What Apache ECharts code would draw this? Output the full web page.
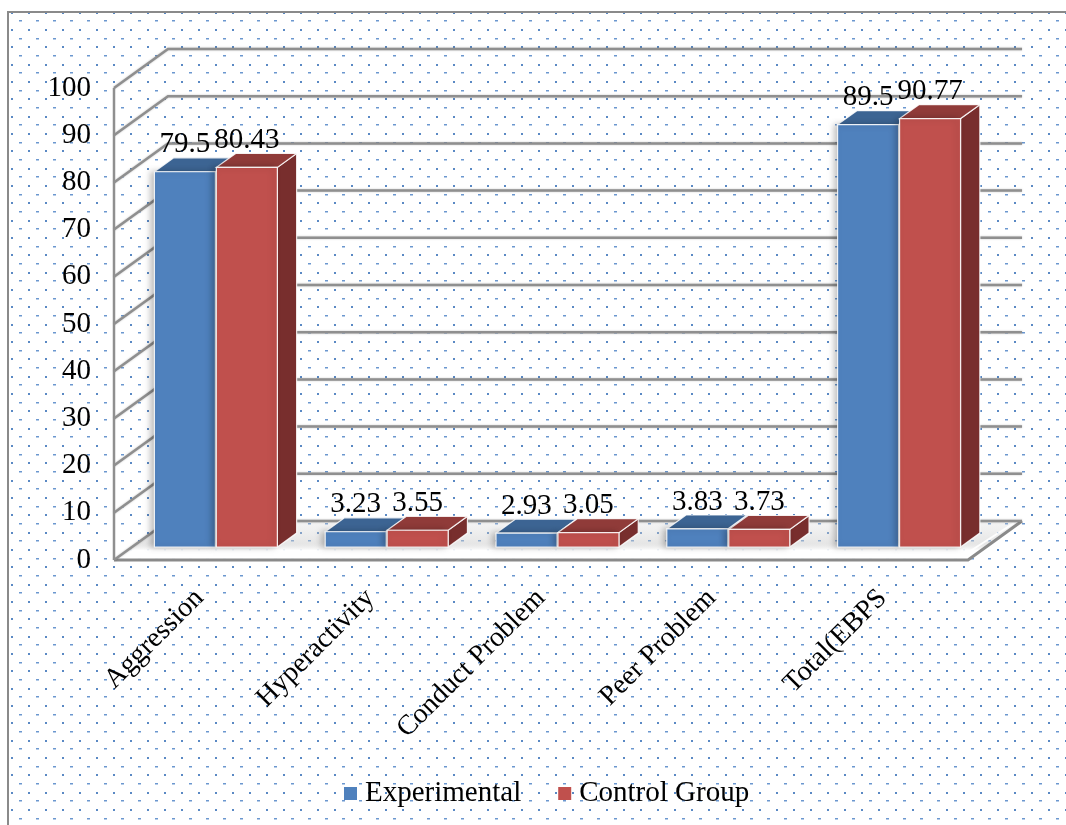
<!DOCTYPE html>
<html><head><meta charset="utf-8">
<script src="https://cdn.jsdelivr.net/npm/echarts@6/dist/echarts.min.js"></script>
<style>html,body{margin:0;padding:0;background:#fff}#c{width:1066px;height:825px}</style>
</head><body><div id="c"></div>
<script>
// ---- data ----
const categories = ['Aggression', 'Hyperactivity', 'Conduct Problem', 'Peer Problem', 'Total(EBPS'];
const experimental = [79.5, 3.23, 2.93, 3.83, 89.5];
const controlGroup = [80.43, 3.55, 3.05, 3.73, 90.77];
const gridValues = [0, 10, 20, 30, 40, 50, 60, 70, 80, 90, 100];
const seriesNames = ['Experimental', 'Control Group'];

// ---- style / geometry ----
const FONT = '"Liberation Serif", "Times New Roman", serif';
const DX = 54, DY = -39;          // full depth offset of the 3D box
const F0 = 0.333, F1 = 0.69;      // bar front / back depth fractions
const BAR_FRAC = 0.357;           // bar width as fraction of category band
const COLORS = [
  {front: '#4f81bd', top: '#3c6493', side: '#2f4f78'},
  {front: '#c0504d', top: '#903b39', side: '#782e2d'}
];

// dotted background pattern
const pc = document.createElement('canvas');
pc.width = 51; pc.height = 52;
const g = pc.getContext('2d');
g.fillStyle = '#ffffff'; g.fillRect(0, 0, 51, 52);
for (let r = 0; r < 6; r++) {
  const y = Math.round(r * 52 / 6 + 3);
  const off = (r % 2) ? 8.5 : 0;
  for (let c = 0; c < 3; c++) {
    const x = Math.round(c * 17 + off + 2);
    if (r % 2) { g.fillStyle = '#5a89c4'; g.fillRect(x, y, 2, 2); }
    else { g.fillStyle = '#6b97cf'; g.fillRect(x, y, 3, 1.5); }
  }
}

const chart = echarts.init(document.getElementById('c'), null, {renderer: 'canvas'});

function wallRender(params, api) {
  const v = api.value(1);
  const bw = api.size([1, 0])[0];
  const p0 = api.coord([0, v]);
  const pN = api.coord([categories.length - 1, v]);
  const L = p0[0] - bw / 2, R = pN[0] + bw / 2, y = p0[1];
  const children = [];
  const lineStyle = {stroke: '#8f8f8f', lineWidth: 2.5, fill: null, shadowBlur: 2, shadowColor: 'rgba(0,0,0,0.25)'};
  if (v === 0) {
    children.push({
      type: 'polygon',
      shape: {points: [[L, y], [R, y], [R + DX, y + DY], [L + DX, y + DY]]},
      style: {fill: new echarts.graphic.LinearGradient(0, 0, 0, 1, [
        {offset: 0, color: 'rgba(215,215,215,0.25)'},
        {offset: 0.55, color: 'rgba(200,200,200,0.45)'},
        {offset: 0.75, color: 'rgba(255,255,255,0.95)'},
        {offset: 1, color: 'rgba(255,255,255,0.95)'}
      ])}
    });
    children.push({
      type: 'polyline',
      shape: {points: [[L, y], [R, y], [R + DX, y + DY]]},
      style: {stroke: '#8a8a8a', lineWidth: 3, fill: null}
    });
    children.push({
      type: 'polyline',
      shape: {points: [[L + 4, y - 5], [R - 4, y - 5], [R + DX - 8, y + DY + 2]]},
      style: {stroke: 'rgba(255,255,255,0.9)', lineWidth: 2, fill: null}
    });
  }
  children.push({type: 'polyline', shape: {points: [[L, y], [L + DX, y + DY], [R + DX, y + DY]]}, style: lineStyle});
  if (v === gridValues[gridValues.length - 1]) {
    const yb = api.coord([0, 0])[1];
    children.push({type: 'line', shape: {x1: L, y1: y, x2: L, y2: yb}, style: {stroke: '#8f8f8f', lineWidth: 2.5}});
  }
  return {type: 'group', children};
}

function barSeries(si, values) {
  const col = COLORS[si];
  return {
    type: 'custom', name: seriesNames[si], z: 3,
    itemStyle: {color: col.front},
    data: values.map((v, i) => [i, v]),
    renderItem(params, api) {
      const i = api.value(0), v = api.value(1);
      const top = api.coord([i, v]), base = api.coord([i, 0]);
      const bw = api.size([1, 0])[0];
      const w = bw * BAR_FRAC;
      const cx = top[0] - 1.5;
      const x0 = si === 0 ? cx - w - 0.5 : cx + 0.5;
      const x1 = x0 + w;
      const ax = DX * F0, ay = DY * F0, bx = DX * F1, by = DY * F1;
      const yt = top[1], yb = base[1];
      const edge = {stroke: 'rgba(255,255,255,0.85)', lineWidth: 1.2};
      return {
        type: 'group',
        children: [
          {type: 'polygon', shape: {points: [[x1 + ax, yt + ay], [x1 + bx, yt + by], [x1 + bx, yb + by], [x1 + ax, yb + ay]]},
            style: Object.assign({fill: col.side}, edge)},
          {type: 'polygon', shape: {points: [[x0 + ax, yt + ay], [x1 + ax, yt + ay], [x1 + bx, yt + by], [x0 + bx, yt + by]]},
            style: Object.assign({fill: col.top}, edge)},
          {type: 'rect', shape: {x: x0 + ax, y: yt + ay, width: w, height: yb - yt},
            style: Object.assign({fill: col.front, shadowBlur: 6, shadowColor: 'rgba(0,0,0,0.25)', shadowOffsetX: -3}, edge)},
          {type: 'text', z2: 10, style: {text: String(values[i]), x: (x0 + x1) / 2 + ax, y: yt + by - 13,
            align: 'center', verticalAlign: 'middle', font: '29px ' + FONT, fill: '#000'}}
        ]
      };
    }
  };
}

const option = {
  animation: false,
  backgroundColor: {image: pc, repeat: 'repeat'},
  graphic: [
    {type: 'rect', z: -1, silent: true, shape: {x: 0, y: 0, width: 1066, height: 11}, style: {fill: '#fff'}},
    {type: 'rect', z: -1, silent: true, shape: {x: 0, y: 0, width: 7, height: 825}, style: {fill: '#fff'}},
    {type: 'rect', z: -1, silent: true, shape: {x: 8, y: 12, width: 1080, height: 840}, style: {fill: null, stroke: '#8a8a8a', lineWidth: 2}}
  ],
  grid: {left: 114, right: 98, top: 88, bottom: 265},
  xAxis: {
    type: 'category', data: categories,
    axisLine: {show: false}, axisTick: {show: false}, splitLine: {show: false},
    axisLabel: {rotate: 45, margin: 34, interval: 0, fontFamily: FONT, fontSize: 28, color: '#000'}
  },
  yAxis: {
    type: 'value', min: 0, max: 100, interval: 10,
    axisLine: {show: false}, axisTick: {show: false}, splitLine: {show: false},
    axisLabel: {margin: 23, padding: [5, 0, 0, 0], fontFamily: FONT, fontSize: 29, color: '#000'}
  },
  legend: {
    data: seriesNames, left: 344, top: 779, padding: 0,
    icon: 'rect', itemWidth: 13, itemHeight: 13, itemGap: 37,
    textStyle: {fontFamily: FONT, fontSize: 29, color: '#000', padding: [0, 0, 0, 3]}
  },
  series: [
    {type: 'custom', name: 'walls', silent: true, z: 1, data: gridValues.map(v => [0, v]), renderItem: wallRender},
    barSeries(0, experimental),
    barSeries(1, controlGroup)
  ]
};
chart.setOption(option);
</script>
</body></html>
